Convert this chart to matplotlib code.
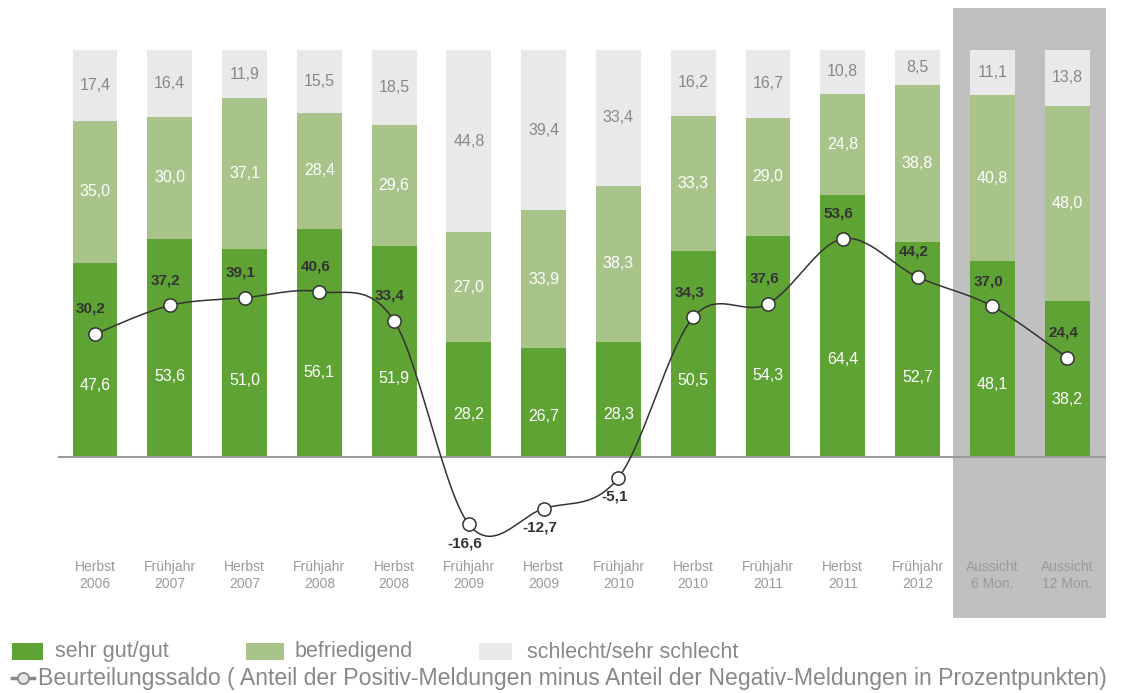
import numpy as np
import matplotlib
matplotlib.use("Agg")
import matplotlib.pyplot as plt
from matplotlib.patches import Rectangle
from matplotlib.lines import Line2D

plt.rcParams['font.family'] = ['Liberation Sans', 'DejaVu Sans']

# Umfragewerte je Halbjahr (Anteile in %)
perioden = ["Herbst\n2006", "Frühjahr\n2007", "Herbst\n2007", "Frühjahr\n2008",
            "Herbst\n2008", "Frühjahr\n2009", "Herbst\n2009", "Frühjahr\n2010",
            "Herbst\n2010", "Frühjahr\n2011", "Herbst\n2011", "Frühjahr\n2012",
            "Aussicht\n6 Mon.", "Aussicht\n12 Mon."]
sehr_gut_gut = [47.6, 53.6, 51.0, 56.1, 51.9, 28.2, 26.7, 28.3, 50.5, 54.3, 64.4, 52.7, 48.1, 38.2]
befriedigend = [35.0, 30.0, 37.1, 28.4, 29.6, 27.0, 33.9, 38.3, 33.3, 29.0, 24.8, 38.8, 40.8, 48.0]
schlecht = [17.4, 16.4, 11.9, 15.5, 18.5, 44.8, 39.4, 33.4, 16.2, 16.7, 10.8, 8.5, 11.1, 13.8]
saldo = [30.2, 37.2, 39.1, 40.6, 33.4, -16.6, -12.7, -5.1, 34.3, 37.6, 53.6, 44.2, 37.0, 24.4]

GRUEN = '#5fa335'
HELLGRUEN = '#a9c48b'
GRAU = '#e9e9e9'
SCHATTEN = '#c0c0c0'
TEXTGRAU = '#9a9a9a'


def fmt(v):
    return f"{v:.1f}".replace('.', ',')


def smooth(xs, ys, n=30):
    # Bezier-Glaettung wie bei "geglaetteten Linien" in Office-Diagrammen
    xs = np.asarray(xs, float)
    ys = np.asarray(ys, float)
    px, py = [], []
    for i in range(len(xs) - 1):
        i0 = max(i - 1, 0)
        i3 = min(i + 2, len(xs) - 1)
        c1x = xs[i] + (xs[i + 1] - xs[i0]) / 6
        c1y = ys[i] + (ys[i + 1] - ys[i0]) / 6
        c2x = xs[i + 1] - (xs[i3] - xs[i]) / 6
        c2y = ys[i + 1] - (ys[i3] - ys[i]) / 6
        t = np.linspace(0, 1, n)
        bx = (1 - t) ** 3 * xs[i] + 3 * (1 - t) ** 2 * t * c1x + 3 * (1 - t) * t ** 2 * c2x + t ** 3 * xs[i + 1]
        by = (1 - t) ** 3 * ys[i] + 3 * (1 - t) ** 2 * t * c1y + 3 * (1 - t) * t ** 2 * c2y + t ** 3 * ys[i + 1]
        px.extend(bx)
        py.extend(by)
    return px, py


W, H = 1132, 693
fig = plt.figure(figsize=(W / 100, H / 100), dpi=100)
ax = fig.add_axes([58 / W, 1 - 618 / H, (1106 - 58) / W, (618 - 8) / H])
ax.set_xlim(-0.495, 13.52)
ax.set_ylim(-39.6, 110.3)
ax.axis('off')

x = np.arange(len(perioden))
ax.axvspan(11.47, 13.52, color=SCHATTEN, zorder=0, lw=0)

b1 = np.array(sehr_gut_gut)
b2 = np.array(befriedigend)
b3 = np.array(schlecht)
w = 0.6
ax.bar(x, b1, w, color=GRUEN, zorder=2)
ax.bar(x, b2, w, bottom=b1, color=HELLGRUEN, zorder=2)
ax.bar(x, b3, w, bottom=b1 + b2, color=GRAU, zorder=2)
ax.axhline(0, color='#9a9a9a', lw=1.5, zorder=3)

for i in x:
    ax.text(i, b1[i] * 0.37, fmt(b1[i]), ha='center', va='center', color='white', fontsize=11.5, zorder=4)
    ax.text(i, b1[i] + b2[i] / 2, fmt(b2[i]), ha='center', va='center', color='white', fontsize=11.5, zorder=4)
    ax.text(i, b1[i] + b2[i] + b3[i] / 2, fmt(b3[i]), ha='center', va='center', color='#888888',
            fontsize=11.5, zorder=4)
    ax.text(i, -29.2, perioden[i], ha='center', va='center', color=TEXTGRAU, fontsize=10,
            linespacing=1.25, zorder=4)

# Beurteilungssaldo als geglaettete Linie
sx, sy = smooth(x, saldo)
ax.plot(sx, sy, color='#333333', lw=1.1, zorder=5)
ax.plot(x, saldo, ls='none', marker='o', ms=9.5, mfc='white', mec='#333333', mew=1.1, zorder=6)
for i, v in enumerate(saldo):
    dy = 25 if v >= 0 else -19
    ax.annotate(fmt(v), (i, v), xytext=(-4, dy), textcoords='offset pixels',
                ha='center', va='center', fontsize=11, fontweight='bold', color='#333333', zorder=7)


# Legende unter dem Diagramm
def fx(px):
    return px / W


def fy(py):
    return 1 - py / H


legende = [(12, 43, GRUEN, 55, "sehr gut/gut"),
           (246, 284, HELLGRUEN, 295, "befriedigend"),
           (479, 512, GRAU, 527, "schlecht/sehr schlecht")]
for x0, x1, farbe, tx, label in legende:
    fig.add_artist(Rectangle((fx(x0), fy(660)), fx(x1 - x0), 17 / H, transform=fig.transFigure,
                             color=farbe, lw=0))
    fig.text(fx(tx), fy(652), label, ha='left', va='center', fontsize=15.5, color='#888888')

fig.add_artist(Line2D([fx(12), fx(34)], [fy(678), fy(678)], transform=fig.transFigure,
                      color='#888888', lw=2.5, zorder=1))
fig.add_artist(Line2D([fx(23)], [fy(678)], transform=fig.transFigure, ls='none',
                      marker='o', ms=8, mfc='#e6e6e6', mec='#888888', mew=1.3, zorder=2))
fig.text(fx(38), fy(679), "Beurteilungssaldo ( Anteil der Positiv-Meldungen minus Anteil der Negativ-Meldungen in Prozentpunkten)",
         ha='left', va='center', fontsize=16.6, color='#888888')

fig.savefig('out.png', dpi=100, facecolor='white')
